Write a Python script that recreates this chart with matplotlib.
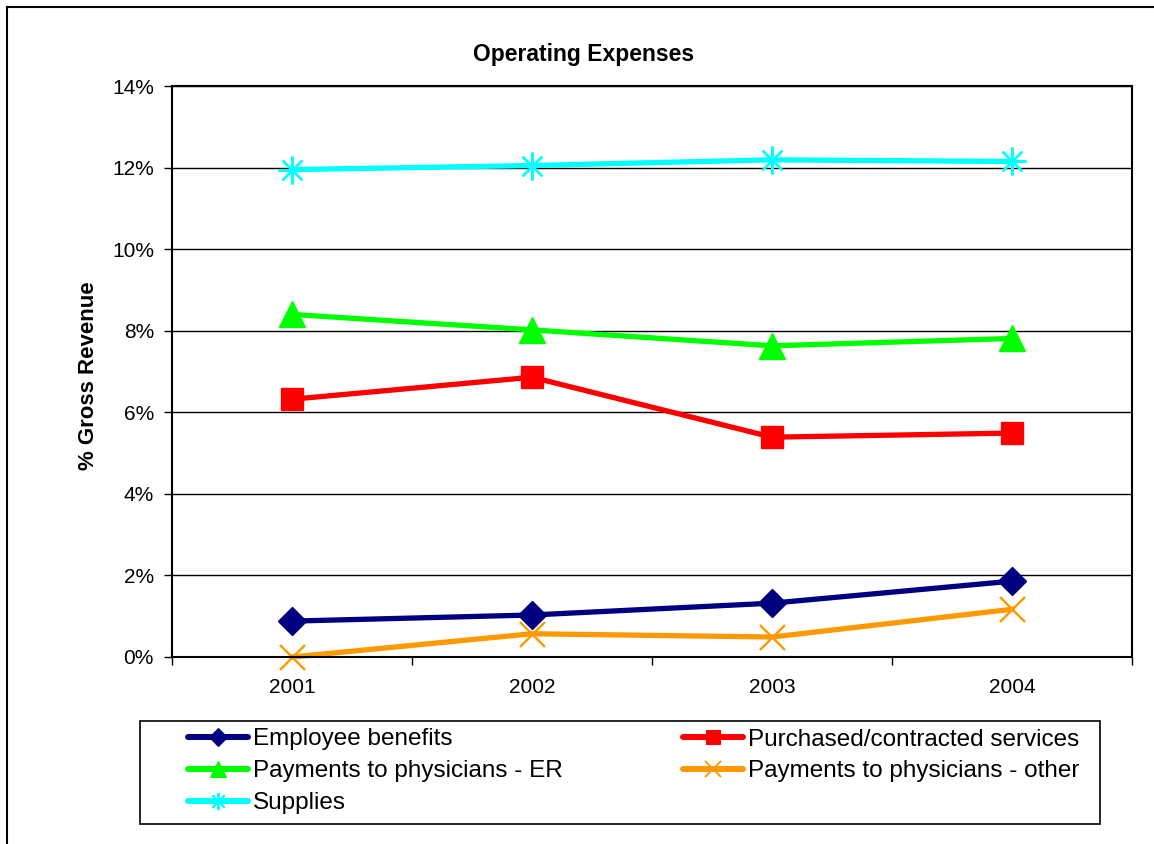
import matplotlib.pyplot as plt
from matplotlib.lines import Line2D
from matplotlib.patches import Rectangle
from matplotlib.ticker import FuncFormatter, FixedLocator

# chart data (% of gross revenue)
years = ['2001', '2002', '2003', '2004']
employee_benefits = [0.88, 1.03, 1.32, 1.86]
purchased_services = [6.32, 6.86, 5.39, 5.49]
physicians_er = [8.40, 8.02, 7.63, 7.81]
physicians_other = [0.0, 0.57, 0.49, 1.17]
supplies = [11.95, 12.05, 12.19, 12.15]

plt.rcParams['font.family'] = ['Liberation Sans', 'DejaVu Sans']

W, H = 1154, 844
fig = plt.figure(figsize=(W / 100, H / 100), dpi=100)
ax = fig.add_axes([172 / W, 1 - 657 / H, 960 / W, 571 / H])

x = list(range(len(years)))
lw = 3.8
series = [
    ('Employee benefits', employee_benefits, '#000080', 'D', 14.5, 1.0),
    ('Purchased/contracted services', purchased_services, '#FF0000', 's', 16.5, 1.0),
    ('Payments to physicians - ER', physicians_er, '#00FF00', '^', 19, 1.0),
    ('Payments to physicians - other', physicians_other, '#FF9900', 'x', 18, 1.7),
    ('Supplies', supplies, '#00FFFF', (8, 2, 0), 20, 1.7),
]
for name, vals, col, mk, ms, mew in series:
    ax.plot(x, vals, color=col, lw=lw, marker=mk, ms=ms, mew=mew, clip_on=False)

ax.set_xlim(-0.5, 3.5)
ax.set_ylim(0, 14)
ax.set_yticks(range(0, 15, 2))
ax.yaxis.set_major_formatter(FuncFormatter(lambda v, p: f"{int(v)}%"))
ax.yaxis.grid(True, color='black', lw=1)
ax.set_axisbelow(True)

ax.set_xticks(x)
ax.set_xticklabels(years)
ax.xaxis.set_minor_locator(FixedLocator([-0.5, 0.5, 1.5, 2.5, 3.5]))
ax.tick_params(axis='x', which='major', length=0, pad=15, labelsize=15)
ax.tick_params(axis='x', which='minor', length=6, width=1, direction='out')
ax.tick_params(axis='y', length=6, width=1, direction='out', pad=7, labelsize=15)

for s in ax.spines.values():
    s.set_linewidth(1.5)
    s.set_color('black')

fig.text(584 / W, 1 - 55 / H, 'Operating Expenses', fontsize=16.5, fontweight='bold',
         ha='center', va='center')
fig.text(89 / W, 1 - 376 / H, '% Gross Revenue', fontsize=16, fontweight='bold',
         ha='center', va='center', rotation=90)

# legend drawn by hand: box, then two columns of entries
fig.add_artist(Rectangle((140 / W, 1 - 824 / H), 960 / W, 103 / H, transform=fig.transFigure,
                         fill=False, edgecolor='black', lw=1.2))
col_x = [188, 683]
row_y = [737, 769, 801]
slots = [(0, 0), (1, 0), (0, 1), (1, 1), (0, 2)]
for (name, vals, col, mk, ms, mew), (c, r) in zip(series, slots):
    x0 = col_x[c]
    y0 = 1 - row_y[r] / H
    fig.add_artist(Line2D([x0 / W, (x0 + 60) / W], [y0, y0], color=col, lw=4.3,
                          solid_capstyle='round'))
    fig.add_artist(Line2D([(x0 + 30) / W], [y0], color=col, marker=mk, ms=ms * 0.62,
                          mew=mew * 0.8, lw=0))
    fig.text((x0 + 65) / W, y0, name, fontsize=17.5, ha='left', va='center_baseline')

# outer chart border
fig.add_artist(Line2D([7 / W, 7 / W], [0, 1 - 7 / H], color='black', lw=1.5))
fig.add_artist(Line2D([7 / W, 1], [1 - 7 / H, 1 - 7 / H], color='black', lw=1.5))

fig.savefig('out.png', dpi=100)
